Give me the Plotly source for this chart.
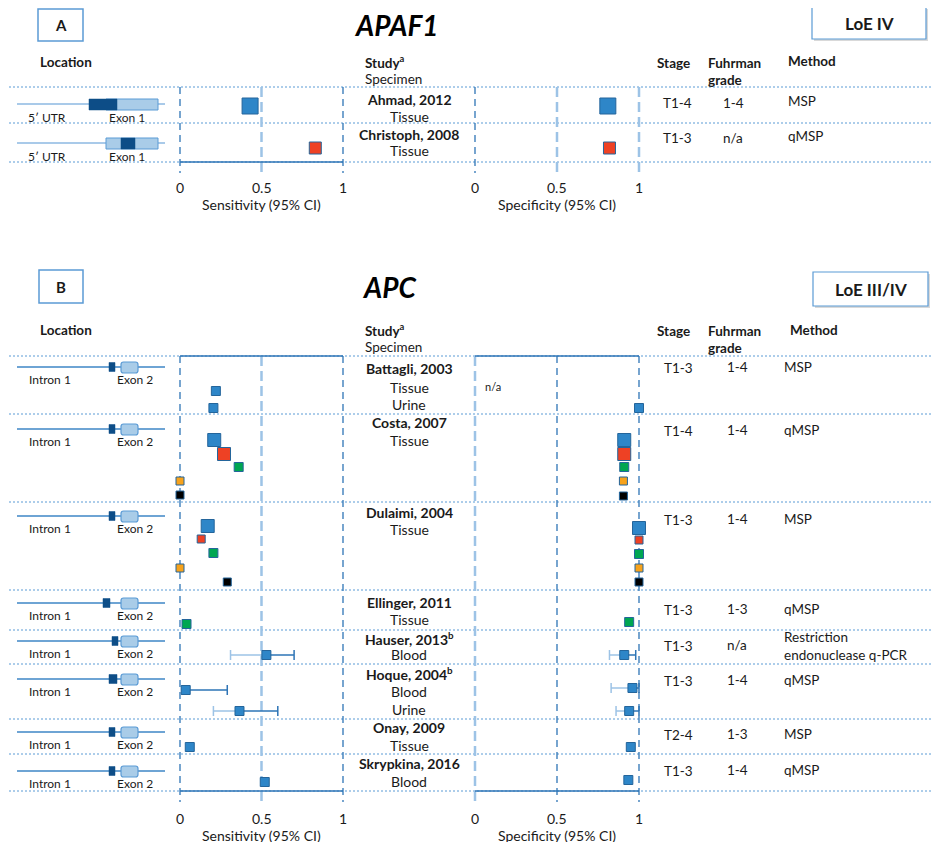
import plotly.graph_objects as go

# ---------------- data ----------------
tick_vals = [0, 0.5, 1]
tick_text = ["0", "0.5", "1"]

# Panel A : APAF1
a_gene = "APAF1"
a_loe = "LoE IV"
a_study = ["Ahmad, 2012", "Christoph, 2008"]
a_specimen = ["Tissue", "Tissue"]
a_stage = ["T1-4", "T1-3"]
a_grade = ["1-4", "n/a"]
a_method = ["MSP", "qMSP"]
a_group = ["blue", "red"]
a_sens = [0.43, 0.83]
a_spec = [0.81, 0.82]

# Panel B : APC
b_gene = "APC"
b_loe = "LoE III/IV"
b_study = ["Battagli, 2003", "Costa, 2007", "Dulaimi, 2004", "Ellinger, 2011",
           "Hauser, 2013<sup>b</sup>", "Hoque, 2004<sup>b</sup>", "Onay, 2009", "Skrypkina, 2016"]
b_specimen = [["Tissue", "Urine"], ["Tissue"], ["Tissue"], ["Tissue"], ["Blood"],
              ["Blood", "Urine"], ["Tissue"], ["Blood"]]
b_stage = ["T1-3", "T1-4", "T1-3", "T1-3", "T1-3", "T1-3", "T2-4", "T1-3"]
b_grade = ["1-4", "1-4", "1-4", "1-3", "n/a", "1-4", "1-3", "1-4"]
b_method = ["MSP", "qMSP", "MSP", "qMSP", "Restriction<br>endonuclease q-PCR", "qMSP", "MSP", "qMSP"]

# one entry per estimate
b_group = ["blue", "blue",
           "blue", "red", "green", "orange", "black",
           "blue", "red", "green", "orange", "black",
           "green", "blue", "blue", "blue", "blue", "blue"]
b_sens = [0.22, 0.205,
          0.21, 0.27, 0.36, 0.0, 0.0,
          0.17, 0.13, 0.205, 0.0, 0.29,
          0.04, 0.53, 0.035, 0.365, 0.06, 0.52]
b_sens_lo = [None] * 13 + [0.31, 0.01, 0.205, None, None]
b_sens_hi = [None] * 13 + [0.70, 0.29, 0.60, None, None]
b_spec = [None, 1.0,
          0.91, 0.91, 0.91, 0.905, 0.905,
          1.0, 1.0, 1.0, 1.0, 1.0,
          0.94, 0.91, 0.96, 0.94, 0.95, 0.935]
b_spec_lo = [None] * 13 + [0.82, 0.83, 0.86, None, None]
b_spec_hi = [None] * 13 + [0.98, 1.0, 1.0, None, None]
b_spec_na = "n/a"

# ---------------- layout / style ----------------
W, H = 940, 842
OFF = 8  # page body margin
FONT = "Lato, 'Open Sans', sans-serif"
TXT = "#1a1a1a"
DOT = "#5B9BD5"
DARK = "#2E75B6"
LIGHT = "#9DC3E6"
GENE_DARK = "#0D4D87"
GENE_LIGHT = "#A9CCE8"
colors = {"blue": "#2E86C8", "red": "#EE4124", "green": "#00A651",
          "orange": "#F7A21B", "black": "#000000"}

SENS0, SENS1 = 180, 343
SPEC0, SPEC1 = 475, 639

a_name_y = [99, 134]
a_specimen_y = [116, 150]
a_info_y = [103, 138]
a_mark_y = [106, 148]
a_mark_size = [16, 12]
a_gene_y = [104, 143]
a_dark = [(89, 117), (121, 135)]

b_name_y = [368, 422, 512, 602, 638, 673, 727, 763]
b_specimen_y = [[387, 404], [440], [529], [619], [654], [691, 709], [745], [781]]
b_info_y = [368, 431, 520, 610, 646, 681, 735, 771]
b_gene_y = [367, 429, 516, 603, 641, 679, 732, 771]
b_dark = [(109, 115), (109, 115), (109, 115), (103, 110), (112, 118), (109, 117), (109, 115), (109, 115)]
b_mark_y_sens = [391, 408, 440, 454, 467, 481, 495, 526, 539, 553, 568, 582, 624, 655, 690, 711, 747, 782]
b_mark_y_spec = [391, 408, 440, 454, 467, 481, 496, 528, 540, 554, 568, 582, 622, 655, 688, 711, 747, 780]
b_mark_size = [9, 9, 13, 13, 9, 8, 8, 13, 8, 9, 8, 8, 9, 9, 9, 9, 9, 9]

shapes, anns = [], []


def ann(x, y, text, size=13, bold=False, italic=False, xanchor="center", xref="x3", color=TXT):
    if italic:
        text = f"<i>{text}</i>"
    if bold:
        text = f"<b>{text}</b>"
    anns.append(dict(x=x, y=y, xref=xref, yref="y", text=text, showarrow=False,
                     xanchor=xanchor, yanchor="middle", align=xanchor if xanchor != "center" else "center",
                     font=dict(family=FONT, size=size, color=color)))


def line(x0, y0, x1, y1, color, width=1, dash=None, xref="x3"):
    shapes.append(dict(type="line", xref=xref, yref="y", x0=x0, x1=x1, y0=y0, y1=y1,
                       line=dict(color=color, width=width, dash=dash), layer="below"))


def rect(x0, y0, x1, y1, fill, lc, lw=1):
    shapes.append(dict(type="rect", xref="x3", yref="y", x0=x0, x1=x1, y0=y0, y1=y1,
                       fillcolor=fill, line=dict(color=lc, width=lw), layer="below"))


def rrect(x0, y0, x1, y1, r, fill, lc, lw=1):
    p = (f"M {x0+r},{y0} L {x1-r},{y0} Q {x1},{y0} {x1},{y0+r} L {x1},{y1-r} "
         f"Q {x1},{y1} {x1-r},{y1} L {x0+r},{y1} Q {x0},{y1} {x0},{y1-r} "
         f"L {x0},{y0+r} Q {x0},{y0} {x0+r},{y0} Z")
    shapes.append(dict(type="path", xref="x3", yref="y", path=p, fillcolor=fill,
                       line=dict(color=lc, width=lw), layer="below"))


def header(gene, gene_x, loe, box_label, box, loebox, hdr_y):
    rect(*box, "white", DOT, 1.5)
    ann((box[0] + box[2]) / 2, (box[1] + box[3]) / 2, box_label, 15, bold=True)
    ann(gene_x, (box[1] + box[3]) / 2, gene, 28, bold=True, italic=True, color="#000")
    rect(loebox[0] + 2, loebox[1] + 2, loebox[2] + 2, loebox[3] + 2, "#d9d9d9", "#d9d9d9", 0)
    rect(*loebox, "white", DOT, 1.2)
    ann((loebox[0] + loebox[2]) / 2, (loebox[1] + loebox[3]) / 2, loe, 17, bold=True)
    ann(38, hdr_y, "Location", 13.5, bold=True, xanchor="left")
    ann(363, hdr_y, "Study<sup>a</sup>", 13.5, bold=True, xanchor="left")
    ann(363, hdr_y + 17, "Specimen", 13.5, xanchor="left")
    ann(655, hdr_y + 1, "Stage", 13.5, bold=True, xanchor="left")
    ann(706, hdr_y + 1, "Fuhrman", 13.5, bold=True, xanchor="left")
    ann(706, hdr_y + 18, "grade", 13.5, bold=True, xanchor="left")


def vgrid(y0, y1, styles, xref):
    for v, st in zip(tick_vals, styles):
        if st == "d":
            line(v, y0, v, y1, DARK, 1.3, "7px,5px", xref)
        else:
            line(v, y0, v, y1, LIGHT, 2.5, "10px,5px", xref)


def axis_labels(tick_y, title_y):
    for v, t in zip(tick_vals, tick_text):
        ann(v, tick_y, t, 14, xref="x")
        ann(v, tick_y, t, 14, xref="x2")
    ann(0.5, title_y, "Sensitivity (95% CI)", 14, xref="x")
    ann(0.5, title_y, "Specificity (95% CI)", 14, xref="x2")


# ---------- Panel A ----------
header(a_gene, 396, a_loe, "A", (38, 9, 83, 41), (812, 7, 926, 39), 62)
ann(786, 61, "Method", 13.5, bold=True, xanchor="left")
for yy in [87, 123, 162]:
    line(5, yy, W, yy, DOT, 1, "2px,2px")
vgrid(87, 173, "dld", "x")
vgrid(87, 173, "dll", "x2")
line(0, 162, 1, 162, DARK, 1.3, None, "x")
axis_labels(187, 204)
for i in range(len(a_study)):
    ann(409, a_name_y[i], a_study[i], 14, bold=True)
    ann(409, a_specimen_y[i], a_specimen[i], 14)
    ann(677, a_info_y[i], a_stage[i], 13.5)
    ann(733, a_info_y[i], a_grade[i], 13.5)
    ann(786, a_info_y[i] - 2, a_method[i], 13.5, xanchor="left")
    gy = a_gene_y[i]
    line(17, gy, 165, gy, "#8DB9E2", 1.5)
    rect(106, gy - 5, 158, gy + 6, GENE_LIGHT, DOT, 1)
    rect(a_dark[i][0], gy - 5, a_dark[i][1], gy + 6, GENE_DARK, GENE_DARK, 0.5)
    ann(26, gy + 13, "5′ UTR", 12, xanchor="left")
    ann(107, gy + 13, "Exon 1", 12, xanchor="left")

# ---------- Panel B ----------
header(b_gene, 389, b_loe, "B", (39, 270, 83, 303), (813, 272, 928, 306), 330)
ann(788, 330, "Method", 13.5, bold=True, xanchor="left")
for yy in [356, 414, 502, 590, 630, 664, 719, 754, 791]:
    line(5, yy, W, yy, DOT, 1, "2px,2px")
vgrid(356, 802, "dld", "x")
vgrid(356, 802, "ldd", "x2")
for yy in [356, 791]:
    line(0, yy, 1, yy, DARK, 1.3, None, "x")
    line(0, yy, 1, yy, DARK, 1.3, None, "x2")
axis_labels(818, 835)
ann(483, 386, b_spec_na, 11, xanchor="left")
for i in range(len(b_study)):
    ann(409, b_name_y[i], b_study[i], 14, bold=True)
    for s, sy in zip(b_specimen[i], b_specimen_y[i]):
        ann(409, sy, s, 14)
    ann(678, b_info_y[i], b_stage[i], 13.5)
    ann(737, b_info_y[i] - 1, b_grade[i], 13.5)
    ann(782, b_info_y[i] - (0 if "<br>" in b_method[i] else 1), b_method[i], 13.5, xanchor="left")
    gy = b_gene_y[i]
    line(17, gy, 165, gy, "#3E86C6", 1.5)
    rrect(121, gy - 5, 138, gy + 6, 2.5, GENE_LIGHT, DOT, 1.2)
    rect(b_dark[i][0], gy - 4.5, b_dark[i][1], gy + 4.5, GENE_DARK, GENE_DARK, 0.5)
    lab_y = gy + 12.5
    ann(27, lab_y, "Intron 1", 12, xanchor="left")
    ann(115, lab_y, "Exon 2", 12, xanchor="left")

# ---------------- traces ----------------
fig = go.Figure()
fig.add_trace(go.Scatter(x=[None], y=[None], xaxis="x3", yaxis="y", showlegend=False))


def ci_traces(vals, los, his, ys, xaxis):
    idx = [i for i in range(len(vals)) if los[i] is not None]
    xs = [vals[i] for i in idx]
    yv = [ys[i] for i in idx]
    for arr, arrm, col in [([0] * len(idx), [vals[i] - los[i] for i in idx], LIGHT),
                           ([his[i] - vals[i] for i in idx], [0] * len(idx), DARK)]:
        fig.add_trace(go.Scatter(
            x=xs, y=yv, xaxis=xaxis, yaxis="y", mode="markers",
            marker=dict(size=1, color="rgba(0,0,0,0)"), showlegend=False, hoverinfo="skip",
            error_x=dict(type="data", symmetric=False, array=arr, arrayminus=arrm,
                         color=col, thickness=1.5, width=5)))


def markers(vals, ys, sizes, groups, xaxis):
    idx = [i for i in range(len(vals)) if vals[i] is not None]
    fig.add_trace(go.Scatter(
        x=[vals[i] for i in idx], y=[ys[i] for i in idx], xaxis=xaxis, yaxis="y",
        mode="markers", cliponaxis=False, showlegend=False,
        marker=dict(symbol="square", size=[sizes[i] for i in idx], opacity=1,
                    color=[colors[groups[i]] for i in idx],
                    line=dict(color="#24659B", width=1))))


ci_traces(b_sens, b_sens_lo, b_sens_hi, b_mark_y_sens, "x")
ci_traces(b_spec, b_spec_lo, b_spec_hi, b_mark_y_spec, "x2")
markers(a_sens, a_mark_y, a_mark_size, a_group, "x")
markers(a_spec, a_mark_y, a_mark_size, a_group, "x2")
markers(b_sens, b_mark_y_sens, b_mark_size, b_group, "x")
markers(b_spec, b_mark_y_spec, b_mark_size, b_group, "x2")

sens_scale = SENS1 - SENS0
spec_scale = SPEC1 - SPEC0
fig.update_layout(
    width=W - OFF, height=H - OFF, margin=dict(l=0, r=0, t=0, b=0),
    paper_bgcolor="white", plot_bgcolor="white", template="none", showlegend=False,
    xaxis=dict(domain=[0, 1], range=[-(SENS0 - OFF) / sens_scale, (W - SENS0) / sens_scale],
               visible=False, fixedrange=True),
    xaxis2=dict(domain=[0, 1], range=[-(SPEC0 - OFF) / spec_scale, (W - SPEC0) / spec_scale],
                visible=False, overlaying="x", anchor="y", fixedrange=True),
    xaxis3=dict(domain=[0, 1], range=[OFF, W], visible=False, overlaying="x",
                anchor="y", fixedrange=True),
    yaxis=dict(domain=[0, 1], range=[H, OFF], visible=False, fixedrange=True),
    shapes=shapes, annotations=anns,
)
fig.write_html("out.html")
